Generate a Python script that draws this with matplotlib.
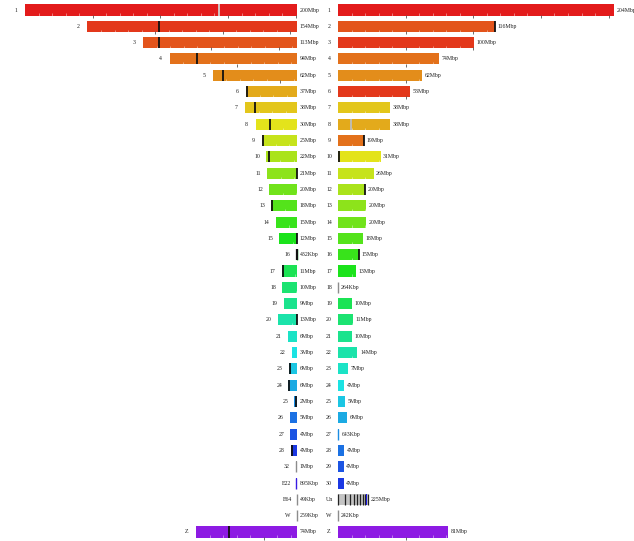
import numpy as np
import matplotlib
matplotlib.use("Agg")
import matplotlib.pyplot as plt
from matplotlib.colors import hsv_to_rgb

# left genome (chicken), lengths in Mbp
left_names = [str(i) for i in range(1, 29)] + ["32", "E22", "E64", "W", "Z"]
left_len = [200.99, 154.87, 113.66, 94.23, 62.24, 37.40, 38.38, 30.67, 25.55, 22.56,
            21.93, 20.54, 18.91, 15.82, 12.97, 0.432, 11.18, 10.93, 9.94, 13.99,
            6.96, 3.94, 6.04, 6.40, 2.03, 5.10, 4.84, 4.51, 1.03, 0.895,
            0.049, 0.259, 74.60]
left_text = ["200Mbp", "154Mbp", "113Mbp", "94Mbp", "62Mbp", "37Mbp", "38Mbp", "30Mbp",
             "25Mbp", "22Mbp", "21Mbp", "20Mbp", "18Mbp", "15Mbp", "12Mbp", "432Kbp",
             "11Mbp", "10Mbp", "9Mbp", "13Mbp", "6Mbp", "3Mbp", "6Mbp", "6Mbp", "2Mbp",
             "5Mbp", "4Mbp", "4Mbp", "1Mbp", "895Kbp", "49Kbp", "259Kbp", "74Mbp"]
left_hue = list(range(28)) + [None, 29, None, None, 32]
# centromere marks (Mbp from chromosome start)
left_cen = [None, 53, 12, 20, 7.5, 0.5, 7.5, 10.5, 0.5, 2.0,
            21.6, None, 0.8, None, 12.7, 0.2, 0.5, None, None, 13.7,
            None, None, 0.5, 0.5, 1.3, None, None, 0.5, None, None,
            None, None, 24.6]
left_gap = {0: 143.0}

# right genome (turkey)
right_names = [str(i) for i in range(1, 31)] + ["Un", "W", "Z"]
right_len = [204.1, 116.3, 100.8, 74.5, 62.3, 53.5, 38.5, 38.4, 19.4, 31.5,
             26.3, 20.3, 20.6, 20.8, 18.4, 15.5, 13.4, 0.264, 10.4, 11.4,
             10.5, 14.4, 7.3, 4.5, 5.2, 6.5, 0.643, 4.5, 4.3, 4.2,
             22.3, 0.242, 81.6]
right_text = ["204Mbp", "116Mbp", "100Mbp", "74Mbp", "62Mbp", "53Mbp", "38Mbp", "38Mbp",
              "19Mbp", "31Mbp", "26Mbp", "20Mbp", "20Mbp", "20Mbp", "18Mbp", "15Mbp",
              "13Mbp", "264Kbp", "10Mbp", "11Mbp", "10Mbp", "14Mbp", "7Mbp", "4Mbp",
              "5Mbp", "6Mbp", "643Kbp", "4Mbp", "4Mbp", "4Mbp", "225Mbp", "242Kbp", "81Mbp"]
# colour = homologous chicken chromosome
right_hue = [0, 2, 1, 3, 4, 1, 6, 5, 3, 7, 8, 9, 10, 11, 12, 13, 14, None, 16, 17,
             18, 19, 20, 21, 22, 23, 24, 25, 26, 27, None, None, 32]
right_cen = [None, 115.8, None, None, None, None, None, None, 19.1, 0.4,
             None, 20.0, None, None, None, 15.2, None, None, None, None,
             None, None, None, None, None, None, None, None, None, None,
             None, None, None]
right_gap = {7: 9.6}
un_stripes = [0.3, 5.0, 9.0, 12.0, 14.2, 16.2, 18.2, 20.0]
un_blue = (20.6, 21.6)

k = 1.353          # px per Mbp
gap = 41 / k       # space between the two sides
h = 0.68
fs = 4.2
font = "Liberation Serif"
txt = "#222222"


def colour(idx):
    if idx is None:
        return "#8c8c8c"
    return hsv_to_rgb((idx / 42.0, 0.88, 0.89))


def ticks(ax, x0, L, y, sign):
    for p in np.arange(10, L, 10):
        x = x0 + sign * p
        if p % 50 == 0:
            ax.vlines(x, y + h / 2 - 0.05, y + h / 2 + 0.14, color="#555555", lw=0.6, zorder=4)
        else:
            ax.vlines(x, y + h / 2 - 0.13, y + h / 2, color="white", lw=0.5, alpha=0.6, zorder=4)


fig = plt.figure(figsize=(6.34, 5.41), dpi=100)
ax = fig.add_axes([0, 0, 1, 1])

for i, L in enumerate(left_len):
    c = colour(left_hue[i])
    x0 = -L
    ax.barh(i, L, left=x0, height=h, color=c, lw=0, zorder=2)
    if L < 1.2:
        ax.vlines(x0 + L / 2, i - h / 2, i + h / 2, color=c, lw=1.0, zorder=3)
    ticks(ax, x0, L, i, 1)
    if left_cen[i] is not None:
        lw = 1.6 if L < 1 else 1.3
        ax.vlines(x0 + left_cen[i], i - h / 2, i + h / 2, color="#111111", lw=lw, zorder=5)
    if i in left_gap:
        ax.vlines(x0 + left_gap[i], i - h / 2, i + h / 2, color="#d0d0d0", lw=1.3, zorder=5)
    ax.text(x0 - 6.7, i, left_names[i], ha="center", va="center", fontsize=fs,
            family=font, color=txt)
    ax.text(2.2, i, left_text[i], ha="left", va="center", fontsize=fs,
            family=font, color=txt)

for i, L in enumerate(right_len):
    name = right_names[i]
    c = "#c4c4c4" if name == "Un" else colour(right_hue[i])
    x0 = gap
    ax.barh(i, L, left=x0, height=h, color=c, lw=0, zorder=2)
    if L < 1.2:
        ax.vlines(x0 + L / 2, i - h / 2, i + h / 2, color=c, lw=1.0, zorder=3)
    if name == "Un":
        ax.vlines([x0 + s for s in un_stripes], i - h / 2, i + h / 2, color="#222222",
                  lw=0.9, zorder=5)
        ax.barh(i, un_blue[1] - un_blue[0], left=x0 + un_blue[0], height=h,
                color=colour(28), lw=0, zorder=5)
        ax.vlines(x0 + L, i - h / 2, i + h / 2, color="#222222", lw=0.9, zorder=5)
    else:
        ticks(ax, x0, L, i, 1)
    if right_cen[i] is not None:
        ax.vlines(x0 + right_cen[i], i - h / 2, i + h / 2, color="#111111", lw=1.3, zorder=5)
    if i in right_gap:
        ax.vlines(x0 + right_gap[i], i - h / 2, i + h / 2, color="#bdbdbd", lw=1.3, zorder=5)
    ax.text(32 / k, i, name, ha="center", va="center", fontsize=fs,
            family=font, color=txt)
    ax.text(x0 + L + 1.9, i, right_text[i], ha="left", va="center", fontsize=fs,
            family=font, color=txt)

ax.set_xlim(-297 / k, (634 - 297) / k)
ax.set_ylim(32 + 9 / 16.31, -10 / 16.31)
ax.axis("off")

fig.savefig("out.png", dpi=100, facecolor="white")
